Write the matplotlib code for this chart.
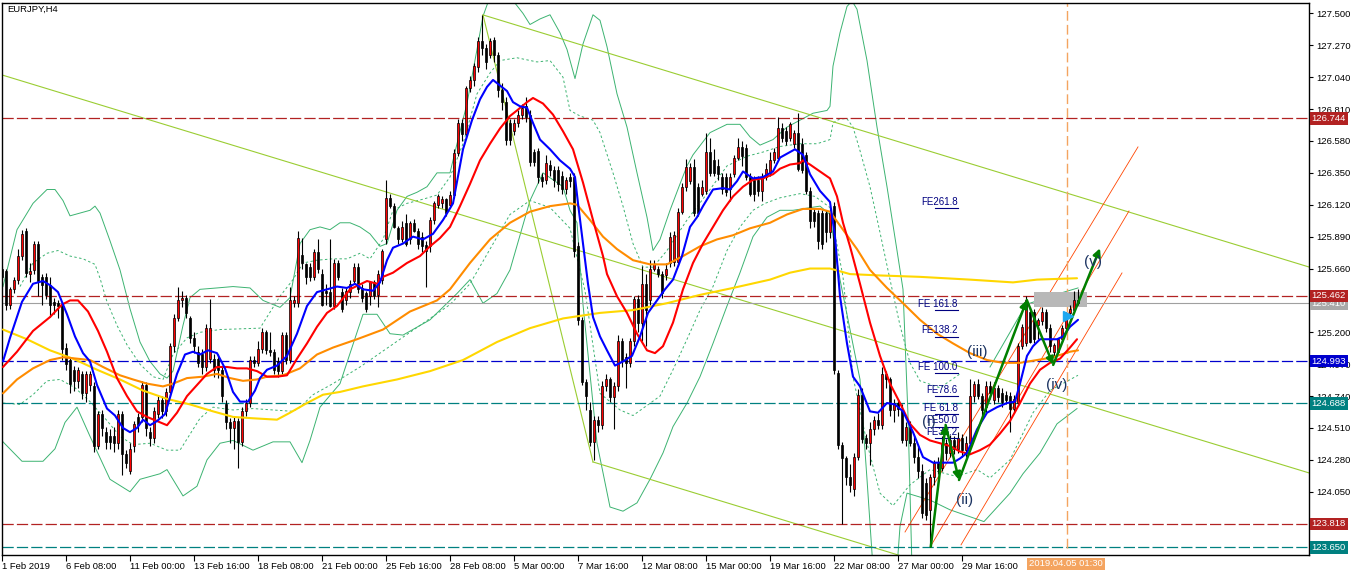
import numpy as np
import matplotlib.pyplot as plt
import matplotlib.transforms as mtransforms

plt.rcParams['font.family'] = ['Liberation Sans', 'DejaVu Sans']

# ---- candle data (H4 bars, index 0 = 1 Feb 2019 16:00) ----
opens = [125.66, 125.64, 125.40, 125.51, 125.58, 125.75, 125.93, 125.62, 125.65, 125.84,
         125.60, 125.60, 125.54, 125.42, 125.41, 125.40, 125.09, 125.00, 124.93, 124.85,
         124.90, 124.76, 124.82, 124.81, 124.38, 124.61, 124.48, 124.45, 124.45, 124.40,
         124.61, 124.32, 124.20, 124.38, 124.59, 124.59, 124.82, 124.48, 124.44, 124.61,
         124.71, 124.63, 124.77, 125.10, 125.30, 125.43, 125.45, 125.30, 125.16, 125.06,
         125.04, 124.95, 125.01, 125.01, 125.01, 124.93, 124.68, 124.55, 124.51, 124.56,
         124.41, 124.63, 124.69, 125.00, 124.98, 125.08, 125.20, 125.07, 125.06, 124.99,
         124.92, 125.18, 125.00, 125.41, 125.41, 125.76, 125.69, 125.67, 125.60, 125.78,
         125.62, 125.50, 125.49, 125.39, 125.70, 125.49, 125.43, 125.49, 125.57, 125.67,
         125.52, 125.48, 125.46, 125.56, 125.47, 125.58, 125.87, 126.17, 126.11, 125.95,
         125.87, 125.99, 125.87, 125.99, 125.93, 125.89, 125.83, 125.82, 126.01, 126.12,
         126.13, 126.16, 126.12, 126.19, 126.49, 126.71, 126.63, 126.96, 127.02, 127.11,
         127.30, 127.25, 127.20, 127.31, 127.20, 126.95, 126.86, 126.71, 126.65, 126.71,
         126.77, 126.83, 126.77, 126.50, 126.51, 126.32, 126.30, 126.41, 126.37, 126.37,
         126.33, 126.23, 126.32, 126.32, 125.82, 125.29, 124.84, 124.64, 124.41, 124.57,
         124.53, 124.81, 124.86, 124.73, 124.81, 125.14, 125.02, 124.98, 125.14, 125.44,
         125.27, 125.55, 125.43, 125.66, 125.66, 125.62, 125.61, 125.70, 125.71, 125.71,
         126.07, 126.25, 126.29, 126.39, 126.25, 126.20, 126.22, 126.50, 126.44, 126.40,
         126.32, 126.32, 126.23, 126.34, 126.46, 126.54, 126.53, 126.32, 126.30, 126.30,
         126.22, 126.32, 126.35, 126.44, 126.46, 126.67, 126.65, 126.60, 126.56, 126.64,
         126.56, 126.48, 126.22, 126.07, 126.06, 126.06, 126.06, 125.92, 126.11, 124.91,
         124.39, 124.29, 124.16, 124.07, 124.30, 124.75, 124.44, 124.40, 124.50, 124.57,
         124.53, 124.90, 124.86, 124.64, 124.69, 124.65, 124.42, 124.52, 124.40, 124.30,
         124.20, 124.11, 123.92, 124.16, 124.26, 124.22, 124.40, 124.33, 124.42, 124.36,
         124.44, 124.35, 124.40, 124.74, 124.83, 124.74, 124.66, 124.81, 124.71, 124.80,
         124.76, 124.75, 124.74, 124.65, 124.69, 125.10, 125.12, 125.35, 125.35, 125.25,
         125.28, 125.35, 125.23, 125.06, 125.06, 125.15, 125.23, 125.34, 125.36, 125.43]
highs = [125.68, 125.66, 125.53, 125.60, 125.80, 125.94, 125.95, 125.70, 125.86, 125.86,
         125.62, 125.63, 125.60, 125.45, 125.43, 125.42, 125.12, 125.02, 124.96, 124.95,
         124.92, 124.92, 124.92, 124.84, 124.63, 124.64, 124.52, 124.50, 124.52, 124.64,
         124.63, 124.35, 124.40, 124.56, 124.62, 124.85, 124.84, 124.52, 124.66, 124.74,
         124.74, 124.80, 125.12, 125.33, 125.53, 125.50, 125.47, 125.32, 125.20, 125.10,
         125.08, 125.26, 125.44, 125.04, 125.04, 124.96, 124.71, 124.58, 124.60, 124.58,
         124.66, 124.72, 125.03, 125.03, 125.14, 125.23, 125.22, 125.20, 125.08, 125.02,
         125.20, 125.20, 125.53, 125.46, 125.93, 125.88, 125.70, 125.70, 125.80, 125.87,
         125.66, 125.55, 125.87, 125.73, 125.72, 125.52, 125.52, 125.58, 125.70, 125.70,
         125.55, 125.50, 125.57, 125.58, 125.65, 125.80, 126.30, 126.20, 126.13, 125.97,
         126.00, 126.05, 126.00, 126.02, 125.95, 125.92, 125.86, 126.03, 126.15, 126.20,
         126.18, 126.17, 126.22, 126.52, 126.74, 126.74, 126.98, 127.05, 127.14, 127.33,
         127.49, 127.28, 127.32, 127.33, 127.22, 127.00, 126.90, 126.74, 126.74, 126.80,
         126.85, 126.90, 126.80, 126.52, 126.53, 126.35, 126.48, 126.44, 126.40, 126.40,
         126.36, 126.32, 126.35, 126.35, 125.85, 125.31, 124.86, 124.70, 124.60, 124.60,
         124.85, 124.90, 124.88, 124.84, 125.18, 125.16, 125.05, 125.16, 125.46, 125.47,
         125.68, 125.62, 125.72, 125.72, 125.68, 125.64, 125.70, 125.92, 125.93, 126.10,
         126.28, 126.45, 126.42, 126.45, 126.28, 126.30, 126.64, 126.60, 126.52, 126.45,
         126.35, 126.35, 126.35, 126.48, 126.60, 126.58, 126.56, 126.35, 126.33, 126.33,
         126.35, 126.42, 126.50, 126.53, 126.75, 126.71, 126.68, 126.72, 126.66, 126.78,
         126.60, 126.50, 126.25, 126.10, 126.08, 126.08, 126.08, 126.10, 126.14, 124.93,
         124.41, 124.31, 124.25, 124.33, 124.79, 124.80, 124.47, 124.55, 124.60, 124.62,
         124.95, 124.92, 124.88, 124.72, 124.72, 124.68, 124.55, 124.56, 124.45, 124.38,
         124.25, 124.15, 124.18, 124.28, 124.30, 124.45, 124.43, 124.46, 124.45, 124.48,
         124.47, 124.45, 124.86, 124.85, 124.86, 124.76, 124.85, 124.85, 124.84, 124.82,
         124.80, 124.78, 124.77, 124.75, 125.12, 125.26, 125.46, 125.38, 125.37, 125.30,
         125.38, 125.37, 125.26, 125.12, 125.16, 125.25, 125.35, 125.40, 125.50, 125.51]
lows = [125.58, 125.36, 125.37, 125.48, 125.55, 125.72, 125.60, 125.56, 125.62, 125.46,
        125.40, 125.44, 125.31, 125.33, 125.30, 125.00, 124.93, 124.76, 124.78, 124.80,
        124.72, 124.70, 124.78, 124.34, 124.36, 124.45, 124.36, 124.36, 124.34, 124.36,
        124.17, 124.22, 124.18, 124.34, 124.48, 124.55, 124.45, 124.38, 124.40, 124.58,
        124.58, 124.60, 124.74, 125.06, 125.28, 125.38, 125.30, 125.12, 125.05, 124.95,
        124.90, 124.92, 124.98, 124.88, 124.87, 124.70, 124.50, 124.40, 124.36, 124.22,
        124.38, 124.60, 124.66, 124.95, 124.96, 125.05, 125.04, 125.03, 124.90, 124.88,
        124.90, 124.97, 124.98, 125.38, 125.38, 125.66, 125.55, 125.57, 125.58, 125.63,
        125.39, 125.40, 125.38, 125.37, 125.58, 125.35, 125.40, 125.45, 125.55, 125.48,
        125.42, 125.35, 125.40, 125.44, 125.38, 125.55, 125.84, 126.10, 125.95, 125.84,
        125.85, 125.82, 125.84, 125.92, 125.80, 125.78, 125.53, 125.78, 125.98, 126.10,
        126.10, 126.04, 126.10, 126.17, 126.47, 126.58, 126.60, 126.93, 126.98, 127.08,
        127.20, 127.10, 127.18, 127.15, 126.90, 126.80, 126.55, 126.55, 126.62, 126.68,
        126.74, 126.72, 126.40, 126.40, 126.28, 126.25, 126.27, 126.33, 126.25, 126.22,
        126.20, 126.20, 126.25, 125.74, 125.25, 124.82, 124.64, 124.38, 124.28, 124.48,
        124.50, 124.78, 124.70, 124.50, 124.78, 124.95, 124.80, 124.95, 125.10, 125.20,
        125.14, 125.10, 125.40, 125.64, 125.60, 125.45, 125.58, 125.67, 125.68, 125.68,
        126.05, 126.22, 126.27, 126.04, 126.04, 126.18, 126.20, 126.33, 126.33, 126.30,
        126.20, 126.18, 126.15, 126.32, 126.44, 126.40, 126.30, 126.18, 126.15, 126.18,
        126.15, 126.30, 126.33, 126.42, 126.44, 126.57, 126.55, 126.58, 126.53, 126.36,
        126.35, 126.20, 125.95, 125.96, 125.80, 125.80, 125.85, 125.88, 124.90, 124.36,
        123.82, 124.10, 124.05, 124.02, 124.28, 124.40, 124.36, 124.24, 124.46, 124.50,
        124.50, 124.80, 124.60, 124.55, 124.60, 124.40, 124.38, 124.38, 124.26, 124.15,
        123.86, 123.85, 123.65, 124.10, 124.18, 124.20, 124.28, 124.30, 124.32, 124.33,
        124.30, 124.30, 124.38, 124.70, 124.72, 124.60, 124.62, 124.72, 124.68, 124.70,
        124.66, 124.68, 124.48, 124.62, 124.67, 125.08, 125.10, 125.12, 125.12, 125.15,
        125.25, 125.20, 125.06, 125.03, 125.04, 125.13, 125.20, 125.32, 125.34, 125.40]
closes = [125.60, 125.40, 125.51, 125.58, 125.75, 125.91, 125.63, 125.64, 125.84, 125.57,
          125.54, 125.47, 125.40, 125.40, 125.39, 125.08, 124.97, 124.83, 124.85, 124.93,
          124.76, 124.90, 124.90, 124.38, 124.61, 124.51, 124.41, 124.41, 124.40, 124.61,
          124.32, 124.26, 124.36, 124.54, 124.53, 124.82, 124.51, 124.44, 124.63, 124.71,
          124.63, 124.77, 125.10, 125.30, 125.43, 125.45, 125.34, 125.16, 125.10, 124.98,
          124.95, 125.23, 125.23, 124.93, 124.93, 124.74, 124.55, 124.51, 124.56, 124.41,
          124.63, 124.69, 125.00, 124.98, 125.08, 125.20, 125.07, 125.06, 124.93, 124.92,
          125.18, 125.00, 125.43, 125.43, 125.88, 125.70, 125.60, 125.60, 125.78, 125.66,
          125.40, 125.48, 125.39, 125.70, 125.60, 125.37, 125.50, 125.55, 125.67, 125.51,
          125.45, 125.37, 125.56, 125.46, 125.62, 125.79, 126.17, 126.11, 125.96, 125.87,
          125.96, 125.84, 125.99, 125.93, 125.84, 125.82, 125.79, 126.01, 126.13, 126.18,
          126.16, 126.06, 126.19, 126.49, 126.71, 126.63, 126.96, 127.02, 127.12, 127.30,
          127.25, 127.15, 127.30, 127.20, 126.95, 126.86, 126.59, 126.59, 126.71, 126.77,
          126.82, 126.75, 126.43, 126.43, 126.32, 126.29, 126.42, 126.37, 126.30, 126.27,
          126.23, 126.30, 126.29, 125.79, 125.29, 124.84, 124.74, 124.41, 124.57, 124.53,
          124.81, 124.86, 124.73, 124.81, 125.14, 125.00, 124.98, 125.14, 125.44, 125.27,
          125.55, 125.36, 125.66, 125.69, 125.62, 125.48, 125.66, 125.89, 125.90, 126.07,
          126.25, 126.39, 126.39, 126.06, 126.06, 126.25, 126.50, 126.35, 126.35, 126.34,
          126.23, 126.21, 126.32, 126.46, 126.54, 126.47, 126.32, 126.20, 126.20, 126.22,
          126.32, 126.38, 126.44, 126.50, 126.67, 126.60, 126.58, 126.70, 126.64, 126.38,
          126.37, 126.22, 126.00, 126.00, 125.86, 125.84, 125.92, 126.06, 124.93, 124.39,
          124.29, 124.16, 124.10, 124.30, 124.75, 124.43, 124.40, 124.50, 124.57, 124.53,
          124.90, 124.86, 124.64, 124.69, 124.65, 124.42, 124.52, 124.40, 124.30, 124.20,
          123.90, 123.88, 124.16, 124.26, 124.22, 124.40, 124.33, 124.42, 124.36, 124.44,
          124.35, 124.40, 124.74, 124.83, 124.74, 124.64, 124.81, 124.76, 124.80, 124.73,
          124.70, 124.71, 124.65, 124.72, 125.10, 125.24, 125.43, 125.13, 125.15, 125.29,
          125.35, 125.23, 125.10, 125.11, 125.15, 125.23, 125.34, 125.37, 125.43, 125.41]

# ---- indicator lines: (bar index, price) ----
ma_fast = [(0.25, 124.99), (2, 125.16), (5, 125.42), (7.75, 125.55), (10.25, 125.57), (12, 125.54),
           (14, 125.49), (16.25, 125.33), (18.25, 125.17), (20.25, 125.05), (22, 124.99), (23.75, 124.82),
           (26.25, 124.65), (28.25, 124.60), (30.25, 124.51), (32, 124.48), (33.75, 124.51), (35.25, 124.57),
           (37, 124.53), (38.75, 124.56), (40.75, 124.61), (42, 124.73), (43.75, 124.90), (45.75, 125.04),
           (47.75, 125.06), (49.5, 125.04), (51.5, 125.07), (53.75, 125.05), (55.75, 124.94), (57.75, 124.77),
           (59.5, 124.70), (61.5, 124.70), (63.25, 124.78), (64.5, 124.87), (66.25, 124.93), (68.75, 124.96),
           (71.25, 125.03), (73.75, 125.19), (76.25, 125.39), (78.75, 125.49), (81.25, 125.51), (83.75, 125.53),
           (86.25, 125.52), (88.25, 125.55), (90.25, 125.51), (92.75, 125.50), (94.5, 125.56), (96.25, 125.72),
           (97.75, 125.81), (100.25, 125.84), (102.75, 125.89), (105.25, 125.87), (107.75, 125.91),
           (110.25, 126.01), (112.75, 126.13), (115.25, 126.52), (117.5, 126.73), (119.5, 126.88),
           (121.25, 126.97), (122.75, 127.02), (124.5, 126.98), (126.25, 126.94), (127.75, 126.86),
           (129.5, 126.83), (131.25, 126.82), (132.75, 126.71), (134.5, 126.59), (137, 126.52), (139.5, 126.44),
           (142, 126.38), (143.25, 126.32), (144, 126.13), (145.25, 125.84), (146.5, 125.55), (147.75, 125.31),
           (149.5, 125.17), (151.25, 125.07), (153.25, 124.96), (155.25, 124.99), (157.5, 125.03),
           (159.5, 125.17), (161.5, 125.34), (163.75, 125.43), (165.75, 125.51), (167.75, 125.58), (170, 125.75),
           (172, 125.96), (173.75, 126.03), (175.25, 126.11), (177.75, 126.23), (180.25, 126.24), (182, 126.23),
           (183.75, 126.29), (185.25, 126.36), (187.75, 126.31), (190.25, 126.32), (192.75, 126.36),
           (194.5, 126.46), (197, 126.50), (198.25, 126.52), (200.25, 126.48), (202, 126.34), (204.5, 126.22),
           (207, 126.14), (208.25, 125.89), (209.5, 125.46), (211.25, 125.12), (212.75, 124.88), (214.5, 124.81),
           (217, 124.63), (219, 124.62), (221.25, 124.69), (223.25, 124.68), (225.25, 124.63), (227.75, 124.48),
           (230.25, 124.30), (232.75, 124.26), (235.25, 124.26), (237.75, 124.26), (239.5, 124.29),
           (241.25, 124.33), (243.75, 124.50), (246.25, 124.62), (248.75, 124.66), (251.25, 124.69),
           (253.25, 124.70), (254.5, 124.83), (256.25, 125.03), (257.75, 125.10), (259.5, 125.15),
           (261.25, 125.15), (263.75, 125.15), (265.25, 125.17), (267, 125.24), (269, 125.29)]
ma_mid = [(0.25, 124.95), (3.75, 125.06), (7.75, 125.21), (12, 125.31), (15, 125.40), (17, 125.43), (19, 125.43),
          (21.5, 125.35), (24, 125.21), (26.25, 125.06), (28.75, 124.87), (31.25, 124.74), (33.75, 124.63),
          (36.25, 124.59), (38.75, 124.56), (41.25, 124.53), (43.75, 124.62), (46.25, 124.74), (48.75, 124.82),
          (51.25, 124.90), (53.75, 124.95), (56.25, 124.95), (58.75, 124.94), (61.25, 124.94), (63.75, 124.92),
          (66.25, 124.88), (68.75, 124.88), (71.25, 124.89), (73.75, 125.01), (76.25, 125.12), (78.75, 125.24),
          (81.25, 125.34), (83.75, 125.39), (87, 125.51), (91.25, 125.57), (93.75, 125.55), (95.25, 125.60),
          (97.75, 125.63), (101.25, 125.70), (104.5, 125.75), (107, 125.82), (109.5, 125.88), (112, 125.96),
          (114.5, 126.11), (117, 126.27), (119.5, 126.44), (122, 126.56), (124.5, 126.67), (127, 126.76),
          (128.75, 126.80), (131.25, 126.86), (132.75, 126.89), (135.25, 126.85), (137.75, 126.77),
          (140.25, 126.65), (142.75, 126.52), (145.25, 126.28), (147.75, 126.01), (150.25, 125.75),
          (151.25, 125.62), (153.75, 125.46), (156.25, 125.34), (158.75, 125.19), (161.25, 125.07),
          (163.25, 125.05), (165.25, 125.10), (167.75, 125.27), (170.25, 125.51), (172.75, 125.70),
          (175.25, 125.84), (177.75, 125.96), (180.25, 126.08), (182.75, 126.18), (185.25, 126.25),
          (187.75, 126.30), (190.25, 126.31), (192.75, 126.34), (194.5, 126.38), (197, 126.41), (199.5, 126.42),
          (200.25, 126.44), (202, 126.41), (204.5, 126.36), (207, 126.31), (208.75, 126.18), (210.25, 125.99),
          (212, 125.82), (214.5, 125.55), (217, 125.27), (219.5, 125.03), (222, 124.83), (224.5, 124.69),
          (227, 124.54), (229.5, 124.46), (232, 124.42), (234.5, 124.40), (237, 124.38), (239.5, 124.34),
          (242, 124.32), (244.5, 124.35), (247, 124.39), (249.5, 124.47), (252, 124.56), (254.5, 124.69),
          (257, 124.83), (259.5, 124.93), (262, 124.98), (264.5, 125.01), (267, 125.09), (268.75, 125.15)]
ma_slow = [(0.25, 124.76), (3.75, 124.86), (7.75, 124.94), (12, 125.00), (15.25, 125.02), (18.75, 125.01),
           (22, 125.00), (25.25, 124.95), (29.5, 124.89), (32.75, 124.86), (36.25, 124.83), (40.25, 124.81),
           (42.75, 124.83), (46.25, 124.87), (50.25, 124.88), (53.75, 124.90), (57, 124.87), (60.25, 124.85),
           (63.75, 124.86), (66.25, 124.88), (70.25, 124.89), (74.5, 124.94), (78.75, 125.04), (82.75, 125.09),
           (88.75, 125.15), (95.25, 125.22), (102, 125.35), (108.75, 125.43), (112, 125.51), (117, 125.70),
           (122, 125.87), (127, 125.99), (132, 126.07), (137, 126.11), (142, 126.13), (143.75, 126.12),
           (147, 126.01), (150.25, 125.89), (153.75, 125.80), (157.75, 125.72), (162, 125.69), (166.25, 125.69),
           (170.25, 125.75), (174.5, 125.82), (178.75, 125.87), (182.75, 125.90), (187, 125.95), (192, 125.99),
           (196.25, 126.05), (200.25, 126.09), (204.5, 126.09), (207, 126.07), (210.25, 125.94), (213.75, 125.80),
           (217, 125.65), (221.25, 125.52), (225.25, 125.41), (229.5, 125.29), (233.75, 125.19), (237.75, 125.12),
           (242, 125.05), (246.25, 125.00), (250.25, 124.98), (254.5, 124.98), (258.75, 125.00), (262.75, 125.02),
           (267, 125.06), (269, 125.07)]
ma_long = [(0.25, 125.22), (6.25, 125.15), (12, 125.07), (17.75, 125.01), (23.75, 124.93), (29.5, 124.86),
           (35.25, 124.78), (41.25, 124.72), (47, 124.68), (52.75, 124.63), (57.75, 124.59), (62.75, 124.58),
           (68.75, 124.57), (72, 124.62), (76.25, 124.69), (80.25, 124.75), (84.5, 124.77), (90.25, 124.81),
           (98.75, 124.86), (107, 124.92), (115.25, 125.00), (123.75, 125.13), (132, 125.23), (140.25, 125.30),
           (149.5, 125.34), (157.75, 125.36), (166.25, 125.41), (174.5, 125.47), (182.75, 125.52), (192, 125.58),
           (197, 125.63), (202, 125.66), (207, 125.66), (212, 125.62), (219.5, 125.61), (229.5, 125.60),
           (242, 125.58), (252.75, 125.56), (258.75, 125.58), (268.75, 125.59)]

# envelope bands (solid = outer, dashed = inner)
band_outer_up = [(0.25, 125.53), (3.75, 125.94), (7.75, 126.13), (11.25, 126.23), (13.25, 126.23), (15.25, 126.15),
                 (17, 126.04), (19.5, 126.06), (22, 126.08), (23.25, 126.11), (24.5, 126.06), (27, 125.86),
                 (29.5, 125.65), (32, 125.37), (34.5, 125.13), (37, 124.99), (39.5, 124.90), (41.25, 124.87),
                 (42.75, 124.92), (45.25, 125.25), (47, 125.45), (49.5, 125.51), (53.75, 125.52), (57.75, 125.53),
                 (62, 125.52), (65.25, 125.43), (69.5, 125.38), (72, 125.45), (74.5, 125.84), (77, 125.94),
                 (79.5, 125.96), (82, 125.94), (84.5, 125.99), (87, 125.99), (89.5, 125.96), (92, 125.91),
                 (94.5, 125.82), (96.25, 125.84), (98.75, 126.08), (101.25, 126.18), (103.75, 126.21),
                 (106.25, 126.25), (108.75, 126.35), (112, 126.35), (113.75, 126.56), (116.25, 126.85),
                 (118.75, 127.24), (120.25, 127.48), (122, 127.62), (127, 127.62), (130.25, 127.50), (132, 127.42),
                 (134.5, 127.46), (137, 127.49), (139.5, 127.36), (141.25, 127.24), (143.25, 127.03),
                 (145.25, 127.28), (147.75, 127.49), (149.5, 127.45), (151.25, 127.26), (153.75, 126.92),
                 (156.25, 126.68), (158.75, 126.35), (161.25, 126.03), (162.75, 125.79), (164.5, 125.87),
                 (167, 126.08), (169.5, 126.27), (171.25, 126.40), (172.75, 126.48), (177, 126.64), (181.25, 126.70),
                 (184.5, 126.70), (187, 126.61), (189.5, 126.55), (192.75, 126.59), (196.25, 126.68),
                 (199.5, 126.73), (202.75, 126.78), (206.25, 126.80), (207, 126.83), (207.75, 127.12),
                 (209.5, 127.36), (211.25, 127.55), (212.5, 127.59), (213.75, 127.53), (216.25, 127.16),
                 (218.75, 126.68), (221.25, 126.25), (223.75, 125.79), (225.25, 125.51), (226.5, 124.60),
                 (227.5, 123.50)]
band_outer_up_end = [(247, 124.95), (252, 125.20), (256, 125.40), (262, 125.46), (269, 125.52)]
band_outer_lo = [(0.25, 124.41), (5, 124.27), (10.25, 124.27), (13.25, 124.36), (15.75, 124.55), (18.75, 124.66),
                 (22, 124.45), (27, 124.14), (32, 124.05), (34.5, 124.14), (39.5, 124.18), (41.25, 124.21),
                 (45.25, 124.02), (48.75, 124.09), (51.25, 124.28), (54.5, 124.40), (57.75, 124.42),
                 (62.75, 124.35), (67.75, 124.41), (72, 124.41), (75, 124.26), (77, 124.42), (79.5, 124.66),
                 (84.5, 124.83), (90.25, 125.33), (93.75, 125.33), (97, 125.19), (100.25, 125.18), (107, 125.29),
                 (113.75, 125.48), (117, 125.58), (120.25, 125.41), (123.75, 125.48), (127, 125.65),
                 (132, 126.15), (135.25, 126.35), (140.25, 126.25), (142, 126.08), (143.75, 125.99),
                 (145.25, 125.40), (147, 124.90), (148.75, 124.40), (152, 123.94), (155.25, 123.91),
                 (158.75, 123.97), (162, 124.14), (165.25, 124.33), (167.75, 124.52), (171.25, 124.69),
                 (174.5, 124.88), (177.75, 125.12), (181.25, 125.39), (184.5, 125.63), (187.75, 125.89),
                 (191.25, 126.03), (194.5, 126.08), (197.75, 126.08), (204.5, 126.11), (207, 126.05),
                 (208.25, 125.80), (209.5, 125.58), (214.5, 124.86), (216.25, 124.14), (217.75, 123.50)]
band_outer_lo_end = [(223.75, 123.50), (224.5, 123.80), (226.25, 124.04), (232, 123.99), (237, 123.92),
                     (245.5, 123.835), (252, 124.04), (255.25, 124.18), (259.5, 124.33), (263.75, 124.54),
                     (268.75, 124.65)]
band_inner_up = [(4.5, 125.53), (7.75, 125.70), (11.25, 125.77), (14, 125.79), (17, 125.75), (20.25, 125.73),
                 (23.25, 125.69), (24.5, 125.59), (26.25, 125.42), (28.75, 125.25), (31.25, 125.11), (34.5, 124.97),
                 (37.75, 124.88), (40.25, 124.86), (42.75, 125.04), (46.25, 125.16), (49.5, 125.20), (54.5, 125.22),
                 (64.5, 125.23), (69.5, 125.46), (72.75, 125.58), (75.25, 125.70), (78.75, 125.72), (82.75, 125.73),
                 (86.25, 125.73), (89.5, 125.77), (92, 125.73), (95.25, 125.87), (97.75, 126.08), (101.25, 126.13),
                 (105.25, 126.16), (108.75, 126.19), (112, 126.32), (115.25, 126.56), (118.75, 126.92),
                 (122, 127.07), (124.5, 127.16), (128.75, 127.18), (133.75, 127.15), (137, 127.16), (140.25, 127.04),
                 (142, 126.80), (144.5, 126.76), (147.75, 126.73), (149.5, 126.64), (152.75, 126.35),
                 (155.25, 126.11), (157.75, 125.84), (160.25, 125.67), (162.75, 125.67), (166.25, 125.79),
                 (171.25, 126.01), (176.25, 126.20), (181.25, 126.40), (186.25, 126.47), (190.25, 126.50),
                 (194.5, 126.54), (199.5, 126.56), (203.75, 126.56), (207, 126.59), (207.75, 126.71),
                 (209.5, 126.74), (211.25, 126.74), (212.75, 126.68), (214.5, 126.51), (217, 126.25),
                 (219.5, 125.92), (222, 125.58), (224.5, 125.25), (227, 124.98), (229.5, 124.85), (234.5, 124.80),
                 (239.5, 124.90)]
band_inner_lo = [(0.25, 124.69), (4.5, 124.68), (7.75, 124.75), (11.25, 124.85), (14.5, 124.86), (18.25, 124.80),
                 (22, 124.70), (25.75, 124.58), (29.5, 124.45), (32.75, 124.39), (37, 124.40), (41.25, 124.35),
                 (44.5, 124.35), (49.5, 124.58), (52.75, 124.66), (57.75, 124.64), (62.75, 124.65), (67.75, 124.64),
                 (72.75, 124.63), (74.5, 124.66), (77.75, 124.75), (82.75, 124.83), (89.5, 124.95), (97, 125.10),
                 (104.5, 125.25), (112, 125.40), (117, 125.55), (122, 125.80), (127, 126.05), (132, 126.15),
                 (137, 126.10), (142, 125.95), (145.75, 125.50), (149.5, 124.76), (154.5, 124.64), (157.75, 124.60),
                 (164.5, 124.74), (167.75, 124.93), (171.25, 125.15), (174.5, 125.36), (177.75, 125.53),
                 (181.25, 125.79), (184.5, 125.96), (187.75, 126.08), (190.75, 126.13), (194.5, 126.17),
                 (199.5, 126.20), (203.25, 126.18), (207, 126.10), (210.25, 125.60), (212.75, 124.88),
                 (216.25, 124.40), (219.5, 124.04), (222.75, 123.95), (227, 124.10), (232, 124.21), (238.75, 124.16),
                 (243.75, 124.21), (247, 124.15), (252, 124.28), (257.75, 124.62), (262, 124.78), (269, 124.89)]

# ---- levels and drawing objects ----
levels = [126.744, 125.462, 124.993, 124.688, 123.818, 123.650]
level_colors = ['#b22222', '#b22222', '#0000cd', '#008080', '#b22222', '#008080']
bid_price = 125.410
date_ticks = [0, 16, 32, 48, 64, 80, 96, 112, 128, 144, 160, 176, 192, 208, 224, 240]
date_labels = ['1 Feb 2019', '6 Feb 08:00', '11 Feb 00:00', '13 Feb 16:00', '18 Feb 08:00',
               '21 Feb 00:00', '25 Feb 16:00', '28 Feb 08:00', '5 Mar 00:00', '7 Mar 16:00',
               '12 Mar 08:00', '15 Mar 00:00', '19 Mar 16:00', '22 Mar 08:00', '27 Mar 00:00',
               '29 Mar 16:00']
trend_lines = [((0, 127.056), (326.75, 124.186)), ((120.25, 127.489), (326.75, 125.671)),
               ((120.25, 127.489), (147.75, 124.265)), ((147.75, 124.265), (224.5, 123.59))]
channel_lines = [((225.75, 123.76), (284, 126.537)), ((232, 123.65), (281.75, 126.075)),
                 ((239.75, 123.667), (280, 125.628))]
wave_t = [232.2, 235.9, 239.25, 256.2, 262.8, 274.5]
wave_p = [123.654, 124.532, 124.135, 125.433, 124.965, 125.806]
wave_names = ['(i)', '(ii)', '(iii)', '(iv)', '(v)']
wave_label_pos = [(231.75, 124.553), (240.75, 123.99), (243.7, 125.06), (263.75, 124.82), (272.75, 125.71)]
fe_names = ['FE261.8', 'FE 161.8', 'FE138.2', 'FE 100.0', 'FE78.6', 'FE 61.8', 'FE50.0', 'FE38.2']
fe_prices = [126.095, 125.361, 125.169, 124.905, 124.741, 124.611, 124.520, 124.436]

# ---- figure ----
W, H = 1362, 576
fig = plt.figure(figsize=(W / 100, H / 100), dpi=100)
ax = fig.add_axes([2 / W, (H - 555) / H, (1309 - 2) / W, (555 - 3) / H])
ax.set_xlim(0, 326.75)
ax.set_ylim(123.594, 127.575)

# bands
for pts, ls in [(band_outer_up, '-'), (band_outer_up_end, '-'), (band_outer_lo, '-'),
                (band_outer_lo_end, '-'), (band_inner_up, (0, (2.5, 2.5))), (band_inner_lo, (0, (2.5, 2.5)))]:
    x, y = zip(*pts)
    ax.plot(x, y, color='#3cb371', lw=0.7, ls=ls, zorder=1)

# trend lines
for (a, b) in trend_lines:
    ax.plot([a[0], b[0]], [a[1], b[1]], color='#9acd32', lw=0.8, zorder=1)
for (a, b) in channel_lines:
    ax.plot([a[0], b[0]], [a[1], b[1]], color='#ff4500', lw=0.6, zorder=1)

# horizontal levels
for lv, col in zip(levels, level_colors):
    ax.axhline(lv, color=col, lw=0.9, ls=(0, (9, 2.5)), zorder=2)
ax.axhline(bid_price, color='#a0a0a0', lw=0.8, zorder=2)

# vertical time marker
ax.plot([266.25, 266.25], [123.645, 127.575], color='#f4a460', lw=1.0, ls=(0, (7, 3)), zorder=2)

# gray box
ax.add_patch(plt.Rectangle((258, 125.381), 13.25, 0.113, fc='#b8b8b8', ec='none', zorder=2.5))

# candles
t = np.arange(len(closes))
o = np.array(opens)
c = np.array(closes)
up = c >= o
ax.vlines(t, lows, highs, color='black', lw=0.8, zorder=3)
body_lo = np.minimum(o, c)
body_h = np.maximum(np.abs(c - o), 0.008)
ax.bar(t, body_h, bottom=body_lo, width=0.72, color=np.where(up, '#ff0000', '#000000'),
       edgecolor='black', lw=0.5, zorder=4)

# moving averages
for pts, col in [(ma_long, '#ffd700'), (ma_slow, '#ff8c00'), (ma_mid, '#ff0000'), (ma_fast, '#0000ff')]:
    x, y = zip(*pts)
    ax.plot(x, y, color=col, lw=1.5, zorder=5, solid_capstyle='round')

# FE labels
for name, pr in zip(fe_names, fe_prices):
    ax.plot([233.3, 238.9], [pr, pr], color='#000080', lw=0.8, zorder=6)
    ax.text(238.9, pr + 0.01, name, color='#000080', fontsize=7, ha='right', va='bottom', zorder=6)

# wave arrows
for i in range(len(wave_t) - 1):
    ax.annotate('', xy=(wave_t[i + 1], wave_p[i + 1]), xytext=(wave_t[i], wave_p[i]),
                arrowprops=dict(arrowstyle='-|>', color='#008000', lw=1.8, mutation_scale=11,
                                shrinkA=0, shrinkB=0), zorder=7)
for name, (lx, ly) in zip(wave_names, wave_label_pos):
    ax.text(lx, ly, name, color='#1c3462', fontsize=11, ha='center', va='center', zorder=8)

ax.plot([266.5], [125.318], marker='>', color='#1ea8f0', markersize=7, zorder=8)

# title
ax.text(0.004, 0.988, 'EURJPY,H4', transform=ax.transAxes, fontsize=6.8, va='center', ha='left')

# axes styling
for s in ax.spines.values():
    s.set_color('black')
    s.set_linewidth(1)
ax.yaxis.tick_right()
yt = [127.5 - 0.23 * k for k in range(17)]
ax.set_yticks(yt)
ax.set_yticklabels(['' if abs(v - 125.43) < 0.01 or abs(v - 123.82) < 0.01 else '%.3f' % v for v in yt])
ax.tick_params(axis='y', direction='out', length=3, pad=2, labelsize=6.8, width=0.8)
ax.set_xticks(date_ticks)
ax.set_xticklabels(date_labels)
ax.tick_params(axis='x', direction='out', length=4, pad=1, labelsize=6.8, width=0.8)
for lab in ax.get_xticklabels():
    lab.set_ha('left')

# price labels on the right
trans = mtransforms.blended_transform_factory(ax.transAxes, ax.transData)
ax.text(1.0019, bid_price, '%.3f' % bid_price, transform=trans, color='white', fontsize=6.8,
        va='center', ha='left', clip_on=False, zorder=10,
        bbox=dict(boxstyle='square,pad=0.2', fc='#a9a9a9', ec='none'))
for lv, col in zip(levels, level_colors):
    ax.text(1.0019, lv, '%.3f' % lv, transform=trans, color='white', fontsize=6.8,
            va='center', ha='left', clip_on=False, zorder=11,
            bbox=dict(boxstyle='square,pad=0.2', fc=col, ec='none'))

fig.text(1029 / W, 1 - 564 / H, '2019.04.05 01:30', color='white', fontsize=6.8, va='center', ha='left',
         bbox=dict(boxstyle='square,pad=0.2', fc='#f4a460', ec='none'))

fig.savefig('out.png', dpi=100)
